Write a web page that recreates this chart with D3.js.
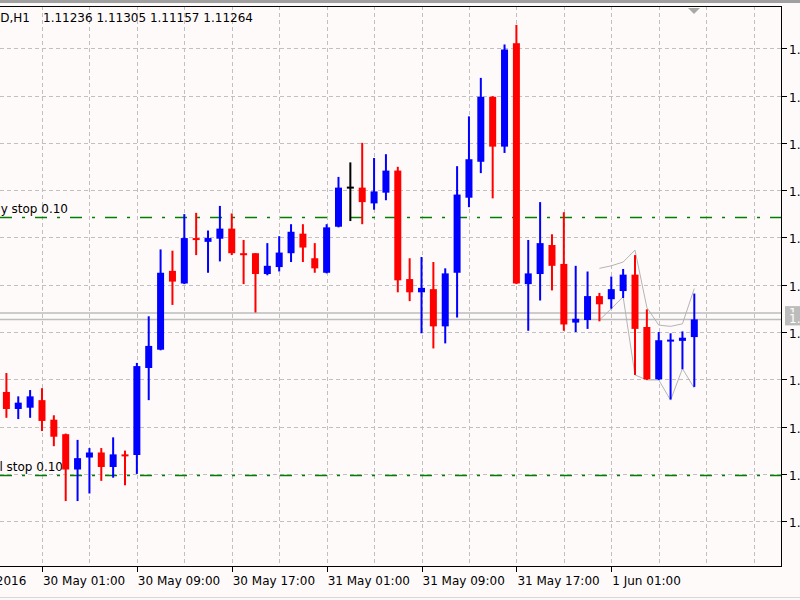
<!DOCTYPE html>
<html>
<head>
<meta charset="utf-8">
<script src="https://cdn.jsdelivr.net/npm/d3@7"></script>
<style>
  body { margin: 0; background: #fffafa; }
  svg { display: block; }
</style>
</head>
<body>
<div id="chart"></div>
<script>
// EURUSD H1 bars, first visible bar is 29 May 22:00 (bar 3 = 30 May 01:00)
var opens = [1.11149,1.11122,1.11124,1.11136,1.11105,1.11082,1.11026,1.11045,1.11053,1.11030,
  1.11050,1.11049,1.11187,1.11216,1.11341,1.11321,1.11393,1.11387,1.11392,1.11408,
  1.11369,1.11369,1.11336,1.11347,1.11369,1.11400,1.11361,1.11338,1.11411,1.11473,
  1.11473,1.11448,1.11465,1.11500,1.11328,1.11307,1.11312,1.11253,1.11338,1.11457,
  1.11514,1.11617,1.11538,1.11702,1.11320,1.11336,1.11382,1.11352,1.11259,1.11263,
  1.11301,1.11296,1.11309,1.11335,1.11252,1.11169,1.11229,1.11230,1.11236]
var highs = [1.11179,1.11142,1.11152,1.11155,1.11112,1.11083,1.11073,1.11060,1.11060,1.11077,
  1.11056,1.11195,1.11269,1.11375,1.11373,1.11431,1.11433,1.11405,1.11444,1.11432,
  1.11390,1.11369,1.11385,1.11396,1.11415,1.11415,1.11385,1.11415,1.11490,1.11513,
  1.11544,1.11520,1.11526,1.11506,1.11361,1.11363,1.11355,1.11345,1.11507,1.11586,
  1.11647,1.11618,1.11700,1.11731,1.11390,1.11450,1.11399,1.11434,1.11349,1.11340,
  1.11306,1.11332,1.11344,1.11366,1.11280,1.11244,1.11242,1.11245,1.11305]
var lows = [1.11108,1.11106,1.11108,1.11087,1.11063,1.10976,1.10976,1.10988,1.11008,1.11013,
  1.11001,1.11019,1.11136,1.11215,1.11287,1.11320,1.11366,1.11338,1.11356,1.11366,
  1.11320,1.11275,1.11334,1.11340,1.11355,1.11355,1.11338,1.11337,1.11410,1.11420,
  1.11415,1.11438,1.11453,1.11307,1.11293,1.11242,1.11218,1.11226,1.11267,1.11442,
  1.11496,1.11456,1.11528,1.11320,1.11246,1.11294,1.11310,1.11246,1.11244,1.11249,
  1.11261,1.11281,1.11298,1.11176,1.11168,1.11168,1.11137,1.11185,1.11157]
var closes = [1.11122,1.11132,1.11142,1.11103,1.11078,1.11026,1.11044,1.11053,1.11030,1.11050,
  1.11047,1.11190,1.11222,1.11338,1.11324,1.11393,1.11390,1.11393,1.11408,1.11369,
  1.11367,1.11336,1.11349,1.11370,1.11403,1.11378,1.11345,1.11410,1.11473,1.11473,
  1.11450,1.11467,1.11500,1.11326,1.11307,1.11314,1.11253,1.11337,1.11462,1.11518,
  1.11617,1.11538,1.11692,1.11321,1.11337,1.11385,1.11349,1.11256,1.11265,1.11301,
  1.11288,1.11312,1.11335,1.11249,1.11169,1.11231,1.11232,1.11235,1.11264]

// grey indicator lines over the last bars
var bandStart = 50
var bandUpper = [1.11345,1.11349,1.11355,1.11374,1.11283,1.11255,1.11253,1.11257,1.11313]
var bandLower = [1.11263,1.11281,1.11300,1.11176,1.11168,1.11168,1.11136,1.11186,1.11155]

var gridPrices = [1.10944,1.11019,1.11094,1.11169,1.11244,1.11319,1.11394,1.11469,1.11544,1.11619,1.11694]
var timeLabels = ["27 May 2016","30 May 01:00","30 May 09:00","30 May 17:00","31 May 01:00","31 May 09:00","31 May 17:00","1 Jun 01:00"]
var timeLabelBars = [-5,3,11,19,27,35,43,51]

var pendingOrders = [{label: "buy stop 0.10", price: 1.11426}, {label: "sell stop 0.10", price: 1.11018}]
var bid = 1.11264, ask = 1.11274

var W = 800, H = 600
var plot = {left: 0, right: 781, top: 6, bottom: 566}
var font = "DejaVu Sans, Verdana, sans-serif"

var svg = d3.select("#chart").append("svg")
  .attr("width", W).attr("height", H)
  .style("font-family", font)

svg.append("rect").attr("width", W).attr("height", H).attr("fill", "#fffafa")
svg.append("rect").attr("width", W).attr("height", 3).attr("fill", "#a0a0a0")
svg.append("line").attr("x1", 0).attr("x2", W).attr("y1", 597.5).attr("y2", 597.5)
  .attr("stroke", "#d8d8d8")

var yScale = d3.scaleLinear().domain([1.10873, 1.11761]).range([plot.bottom, plot.top])
var xScale = d3.scaleLinear().domain([0, opens.length - 1]).range([6.4, 694.3])

svg.append("clipPath").attr("id", "clip")
  .append("rect").attr("x", plot.left).attr("y", plot.top)
  .attr("width", plot.right - plot.left).attr("height", plot.bottom - plot.top)

var g = svg.append("g").attr("clip-path", "url(#clip)")

// grid
g.selectAll(".hgrid").data(gridPrices).join("line")
  .attr("class", "hgrid")
  .attr("x1", plot.left).attr("x2", plot.right)
  .attr("y1", function (d) { return Math.round(yScale(d)) + 0.5 })
  .attr("y2", function (d) { return Math.round(yScale(d)) + 0.5 })
  .attr("stroke", "#c0c0c0").attr("stroke-dasharray", "4,3")

g.selectAll(".vgrid").data(d3.range(-1, 66, 4)).join("line")
  .attr("class", "vgrid")
  .attr("y1", plot.top).attr("y2", plot.bottom)
  .attr("x1", function (d) { return Math.round(xScale(d)) + 0.5 })
  .attr("x2", function (d) { return Math.round(xScale(d)) + 0.5 })
  .attr("stroke", "#c0c0c0").attr("stroke-dasharray", "4,3")

// bid / ask lines
g.selectAll(".priceline").data([ask, bid]).join("line")
  .attr("class", "priceline")
  .attr("x1", plot.left).attr("x2", plot.right)
  .attr("y1", function (d) { return yScale(d) }).attr("y2", function (d) { return yScale(d) })
  .attr("stroke", "#bdbdbd").attr("stroke-width", 1.5)

// pending orders
g.selectAll(".order").data(pendingOrders).join("line")
  .attr("class", "order")
  .attr("x1", plot.left).attr("x2", plot.right)
  .attr("y1", function (d) { return Math.round(yScale(d.price)) + 0.5 })
  .attr("y2", function (d) { return Math.round(yScale(d.price)) + 0.5 })
  .attr("stroke", "#008000").attr("stroke-width", 1.5).attr("stroke-dasharray", "12,10,3,10")

g.selectAll(".orderlabel").data(pendingOrders).join("text")
  .attr("class", "orderlabel")
  .attr("x", function (d, i) { return i == 0 ? 68 : 63 })
  .attr("y", function (d) { return yScale(d.price) - 4 })
  .attr("text-anchor", "end")
  .style("font-size", "12px")
  .text(function (d) { return d.label })

// indicator lines
var band = d3.line()
  .x(function (d, i) { return xScale(bandStart + i) })
  .y(function (d) { return yScale(d) })
g.append("path").attr("d", band(bandUpper)).attr("fill", "none").attr("stroke", "#b4b4b4")
g.append("path").attr("d", band(bandLower)).attr("fill", "none").attr("stroke", "#b4b4b4")

// candles
var bars = d3.range(opens.length).map(function (i) {
  return {i: i, o: opens[i], h: highs[i], l: lows[i], c: closes[i]}
})
function barColor (d) {
  if (d.c > d.o) return "#0000ff"
  if (d.c < d.o) return "#ff0000"
  return "#000000"
}
var candle = g.selectAll(".candle").data(bars).join("g").attr("class", "candle")
candle.append("rect")
  .attr("x", function (d) { return xScale(d.i) - 1 })
  .attr("width", 2)
  .attr("y", function (d) { return yScale(d.h) })
  .attr("height", function (d) { return yScale(d.l) - yScale(d.h) })
  .attr("fill", barColor)
candle.append("rect")
  .attr("x", function (d) { return xScale(d.i) - 3.5 })
  .attr("width", 7)
  .attr("y", function (d) { return yScale(Math.max(d.o, d.c)) - (d.o == d.c ? 1 : 0) })
  .attr("height", function (d) { return Math.max(2, Math.abs(yScale(d.o) - yScale(d.c))) })
  .attr("fill", barColor)

// frame
svg.append("line").attr("x1", 0).attr("x2", plot.right + 0.5)
  .attr("y1", plot.top + 0.5).attr("y2", plot.top + 0.5).attr("stroke", "#000")
svg.append("line").attr("x1", 0).attr("x2", plot.right + 0.5)
  .attr("y1", plot.bottom + 0.5).attr("y2", plot.bottom + 0.5).attr("stroke", "#000")
svg.append("line").attr("x1", plot.right + 0.5).attr("x2", plot.right + 0.5)
  .attr("y1", plot.top).attr("y2", plot.bottom + 1).attr("stroke", "#000")

// shift marker
var mx = 694
svg.append("path").attr("d", "M" + (mx - 6) + ",8 L" + (mx + 6) + ",8 L" + mx + ",14 Z").attr("fill", "#a8a8a8")

// price axis
var yAxis = svg.append("g")
yAxis.selectAll("line").data(gridPrices).join("line")
  .attr("x1", plot.right).attr("x2", plot.right + 6)
  .attr("y1", function (d) { return Math.round(yScale(d)) + 0.5 })
  .attr("y2", function (d) { return Math.round(yScale(d)) + 0.5 })
  .attr("stroke", "#000")
yAxis.selectAll("text").data(gridPrices).join("text")
  .attr("x", plot.right + 8)
  .attr("y", function (d) { return yScale(d) + 6 })
  .style("font-size", "12px")
  .text(d3.format(".5f"))

// bid/ask labels
var tags = svg.selectAll(".pricetag").data([ask, bid]).join("g").attr("class", "pricetag")
tags.append("rect")
  .attr("x", plot.right + 4).attr("width", 60)
  .attr("y", function (d) { return yScale(d) - 7 }).attr("height", 13)
  .attr("fill", "#bcbcbc")
tags.append("text")
  .attr("x", plot.right + 8)
  .attr("y", function (d) { return yScale(d) + 4 })
  .attr("fill", "#fff")
  .style("font-size", "12px")
  .text(d3.format(".5f"))

// time axis
var xAxis = svg.append("g")
xAxis.selectAll("line").data(timeLabelBars).join("line")
  .attr("x1", function (d) { return Math.round(xScale(d)) + 0.5 })
  .attr("x2", function (d) { return Math.round(xScale(d)) + 0.5 })
  .attr("y1", plot.bottom).attr("y2", plot.bottom + 6)
  .attr("stroke", "#000")
xAxis.selectAll("text").data(timeLabelBars).join("text")
  .attr("x", function (d) { return xScale(d) + 1 })
  .attr("y", 585)
  .style("font-size", "12px")
  .text(function (d, i) { return timeLabels[i] })

// header
var last = bars[bars.length - 1]
svg.append("text").attr("x", 30).attr("y", 22).attr("text-anchor", "end")
  .style("font-size", "12px").text("EURUSD,H1")
svg.append("text").attr("x", 43).attr("y", 22)
  .style("font-size", "12px")
  .text([last.o, last.h, last.l, last.c].map(d3.format(".5f")).join(" "))
</script>
</body>
</html>
